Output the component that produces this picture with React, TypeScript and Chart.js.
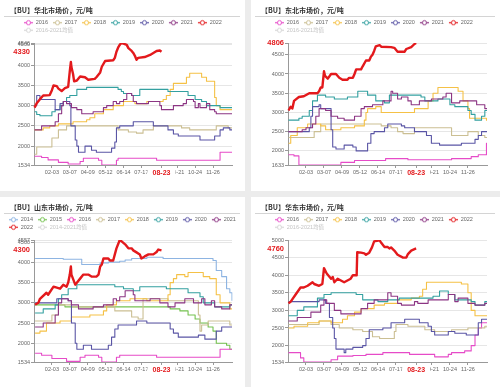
import React, { useEffect, useRef } from 'react';
import { Chart, registerables } from 'chart.js';

Chart.register(...registerables);
Chart.defaults.font.family = '"Liberation Sans", "Noto Sans CJK SC", sans-serif';

type Pt = [string, number];

// ---------- categories: one per calendar day (leap-year template) ----------
const MONTH_LENGTHS = [31, 29, 31, 30, 31, 30, 31, 31, 30, 31, 30, 31];
const DAYS: string[] = MONTH_LENGTHS.flatMap((n, m) =>
  Array.from({ length: n }, (_, d) => `${String(m + 1).padStart(2, '0')}-${String(d + 1).padStart(2, '0')}`)
);
const TICK_DAYS = ['02-03', '03-07', '04-09', '05-12', '06-14', '07-17', '09-21', '10-24', '11-26'];
const NOW_DAY = '08-23';

// ---------- 华北 ----------
const hbYTicks = [1534, 2000, 2500, 3000, 3500, 4000, 4500, 4546];
const hb2016: Pt[] = [['01-02', 1750], ['01-15', 1720], ['01-27', 1660], ['02-15', 1600], ['03-04', 1560], ['03-26', 1620], ['04-01', 1700], ['04-29', 1650], ['05-05', 1534], ['06-01', 1650], ['06-04', 1700], ['08-14', 1650], ['12-09', 1850], ['12-31', 1850]];
const hb2017: Pt[] = [['01-02', 1800], ['01-06', 1980], ['02-03', 2200], ['02-15', 2400], ['03-01', 2500], ['06-04', 2400], ['06-23', 2350], ['07-08', 2320], ['07-20', 2400], ['08-08', 2500], ['09-29', 2450], ['10-14', 2400], ['12-02', 2500], ['12-24', 2450], ['12-31', 2450]];
const hb2018: Pt[] = [['01-02', 2400], ['01-18', 2450], ['01-30', 2500], ['02-15', 2550], ['03-13', 2600], ['04-07', 2650], ['04-13', 2700], ['04-22', 2800], ['05-08', 2900], ['05-26', 3000], ['06-14', 3100], ['07-05', 3050], ['07-27', 3100], ['08-26', 3150], ['09-01', 3250], ['09-08', 3400], ['09-14', 3550], ['10-08', 3700], ['10-14', 3800], ['11-05', 3700], ['11-14', 3600], ['11-29', 3200], ['12-02', 3000], ['12-09', 2900], ['12-31', 2900]];
const hb2019: Pt[] = [['01-02', 2850], ['01-06', 2780], ['01-12', 2750], ['02-03', 2850], ['02-09', 2900], ['02-18', 3000], ['02-24', 3100], ['03-01', 3200], ['03-07', 3250], ['03-20', 3400], ['04-07', 3450], ['06-04', 3400], ['06-10', 3350], ['06-14', 3300], ['06-29', 3250], ['07-14', 3400], ['09-04', 3350], ['10-11', 3250], ['10-24', 3150], ['11-05', 3100], ['11-14', 3000], ['12-09', 2950], ['12-31', 2950]];
const hb2020: Pt[] = [['01-02', 3000], ['01-06', 3250], ['01-12', 3150], ['02-09', 2900], ['02-18', 3050], ['02-24', 3100], ['03-07', 3000], ['03-09', 2500], ['03-17', 2150], ['03-20', 2000], ['03-23', 1850], ['04-04', 2000], ['04-16', 1900], ['04-25', 1850], ['05-23', 1950], ['05-29', 2100], ['06-01', 2450], ['06-07', 2500], ['07-02', 2600], ['08-08', 2500], ['09-04', 2400], ['09-14', 2300], ['09-23', 2250], ['11-02', 2150], ['11-29', 2250], ['12-09', 2400], ['12-15', 2450], ['12-27', 2400], ['12-31', 2400]];
const hb2021: Pt[] = [['01-02', 2400], ['01-15', 2500], ['02-09', 2600], ['02-15', 2800], ['02-21', 3000], ['02-24', 3100], ['03-01', 3050], ['03-10', 2950], ['03-20', 2900], ['03-29', 2800], ['04-19', 2850], ['05-08', 2950], ['05-14', 3000], ['05-26', 3100], ['06-01', 3050], ['06-07', 3100], ['06-14', 3150], ['06-20', 3300], ['06-29', 3250], ['07-02', 3100], ['07-08', 3050], ['07-30', 3100], ['08-20', 3000], ['08-23', 2900], ['09-14', 3000], ['10-02', 3050], ['10-08', 3150], ['10-21', 3100], ['10-24', 2950], ['10-30', 3050], ['11-02', 2950], ['11-14', 3050], ['11-20', 2900], ['11-29', 2850], ['12-02', 2800], ['12-31', 2800]];
const hb2022: Pt[] = [['01-02', 2950], ['01-06', 3060], ['01-12', 3160], ['01-18', 3250], ['01-30', 3260], ['02-03', 3380], ['02-06', 3500], ['02-12', 3480], ['02-15', 3420], ['02-21', 3360], ['02-27', 3430], ['03-04', 3460], ['03-07', 3850], ['03-09', 4080], ['03-10', 3950], ['03-13', 3780], ['03-15', 3600], ['03-20', 3620], ['03-26', 3720], ['04-04', 3700], ['04-10', 3640], ['04-22', 3660], ['04-25', 3700], ['05-02', 3820], ['05-05', 3960], ['05-11', 4100], ['05-26', 4120], ['05-29', 4180], ['06-01', 4330], ['06-04', 4430], ['06-07', 4500], ['06-10', 4546], ['06-14', 4530], ['06-20', 4500], ['06-23', 4420], ['06-29', 4350], ['07-02', 4300], ['07-05', 4230], ['07-08', 4130], ['07-11', 4180], ['07-23', 4200], ['08-02', 4250], ['08-08', 4300], ['08-14', 4350], ['08-20', 4360], ['08-23', 4330]];

// ---------- 东北 ----------
const dbYTicks = [1633, 2000, 2500, 3000, 3500, 4000, 4500, 4806];
const db2016: Pt[] = [['01-02', 1900], ['01-12', 1870], ['01-21', 1633], ['04-07', 1700], ['05-02', 1750], ['06-28', 1800], ['08-08', 1770], ['10-27', 1800], ['12-02', 1850], ['12-15', 1900], ['12-30', 2200], ['12-31', 2200]];
const db2017: Pt[] = [['01-02', 2350], ['02-18', 2500], ['03-01', 2700], ['06-20', 2650], ['07-08', 2600], ['07-20', 2500], ['07-30', 2450], ['08-20', 2600], ['10-27', 2400], ['11-26', 2500], ['12-15', 2400], ['12-27', 2350], ['12-31', 2350]];
const db2018: Pt[] = [['01-02', 2200], ['01-06', 2400], ['01-18', 2600], ['02-06', 2700], ['03-01', 2650], ['03-10', 2550], ['04-07', 2600], ['05-02', 2650], ['05-20', 2800], ['05-23', 3000], ['05-26', 3100], ['06-10', 3150], ['06-20', 3000], ['08-20', 3100], ['09-14', 3300], ['09-23', 3500], ['10-02', 3650], ['11-08', 3550], ['11-17', 3300], ['11-26', 3100], ['11-29', 2850], ['12-30', 2800], ['12-31', 2800]];
const db2019: Pt[] = [['01-02', 2800], ['01-21', 2850], ['01-27', 2900], ['02-09', 3050], ['02-15', 3300], ['02-24', 3450], ['03-10', 3400], ['03-26', 3350], ['04-19', 3400], ['05-08', 3550], ['05-26', 3450], ['06-10', 3300], ['06-26', 3250], ['07-05', 3450], ['09-01', 3400], ['09-08', 3300], ['10-02', 3350], ['10-24', 3200], ['11-02', 3150], ['11-26', 3050], ['12-02', 2950], ['12-09', 2800], ['12-21', 2900], ['12-27', 3050], ['12-31', 3050]];
const db2020: Pt[] = [['01-02', 2500], ['02-09', 2600], ['02-12', 2900], ['02-15', 3150], ['02-27', 3200], ['03-01', 3100], ['03-20', 2550], ['03-23', 2100], ['03-29', 2050], ['04-13', 2150], ['04-29', 2100], ['05-05', 2000], ['05-26', 2200], ['06-01', 2450], ['06-07', 2500], ['06-26', 2600], ['07-02', 2700], ['07-27', 2650], ['08-02', 2600], ['08-20', 2500], ['09-11', 2400], ['09-20', 2200], ['10-05', 2150], ['11-14', 2200], ['12-09', 2300], ['12-15', 2400], ['12-21', 2500], ['12-31', 2500]];
const db2021: Pt[] = [['01-02', 2500], ['01-27', 2550], ['02-03', 2600], ['02-15', 2700], ['02-21', 2900], ['02-27', 3100], ['03-10', 3050], ['03-20', 2900], ['04-01', 2850], ['04-13', 2800], ['05-02', 2900], ['05-14', 3100], ['05-20', 3150], ['06-04', 3200], ['06-23', 3300], ['07-08', 3550], ['07-11', 3500], ['07-20', 3350], ['07-27', 3400], ['08-08', 3300], ['08-14', 3200], ['08-29', 3300], ['09-20', 3350], ['10-11', 3400], ['10-17', 3500], ['10-27', 3250], ['11-11', 3300], ['12-12', 3200], ['12-27', 3100], ['12-31', 3100]];
const db2022: Pt[] = [['01-02', 3050], ['01-06', 3150], ['01-09', 3100], ['01-12', 3300], ['01-21', 3400], ['01-30', 3420], ['02-09', 3500], ['02-24', 3500], ['02-27', 3550], ['03-01', 3650], ['03-04', 3650], ['03-07', 4070], ['03-09', 3950], ['03-14', 3880], ['03-20', 4000], ['03-29', 4000], ['04-04', 3900], ['04-10', 3850], ['04-19', 3850], ['04-22', 3900], ['04-29', 3900], ['05-02', 4000], ['05-05', 4120], ['05-14', 4120], ['05-17', 4200], ['05-23', 4350], ['05-29', 4350], ['06-01', 4450], ['06-04', 4500], ['06-07', 4600], ['06-10', 4720], ['06-17', 4750], ['06-20', 4710], ['07-08', 4700], ['07-14', 4680], ['07-20', 4580], ['08-02', 4580], ['08-05', 4650], ['08-14', 4700], ['08-20', 4780], ['08-23', 4806]];

// ---------- 山东 ----------
const sdYTicks = [1534, 2000, 2500, 3000, 3500, 4000, 4500, 4557];
const sd2014: Pt[] = [['01-03', 4100], ['02-24', 4080], ['03-29', 3950], ['05-02', 3990], ['05-17', 4010], ['06-07', 4030], ['06-17', 4060], ['06-29', 4100], ['07-27', 4130], ['08-26', 4100], ['11-26', 4050], ['12-02', 3800], ['12-12', 3650], ['12-21', 3350], ['12-27', 3250], ['12-31', 3050]];
const sd2015: Pt[] = [['01-03', 2950], ['02-27', 2900], ['09-08', 2850], ['09-26', 2800], ['10-11', 2700], ['10-24', 2600], ['11-02', 2500], ['11-17', 2400], ['11-26', 2300], ['12-02', 2000], ['12-21', 1950], ['12-27', 1850], ['12-31', 1850]];
const sd2016: Pt[] = [['01-03', 1750], ['01-15', 1700], ['02-03', 1620], ['03-01', 1550], ['03-26', 1650], ['04-04', 1700], ['04-29', 1650], ['05-05', 1534], ['06-01', 1650], ['06-07', 1700], ['08-14', 1650], ['12-09', 1850], ['12-31', 1850]];
const sd2017: Pt[] = [['01-03', 2550], ['02-03', 2700], ['02-15', 2950], ['03-10', 2900], ['05-29', 2800], ['06-29', 2650], ['07-11', 2600], ['07-20', 3100], ['09-04', 3050], ['10-30', 2700], ['11-02', 2300], ['11-05', 2450], ['11-17', 2550], ['12-27', 2450], ['12-31', 2450]];
const sd2018: Pt[] = [['01-03', 2250], ['01-12', 2300], ['01-24', 2500], ['02-18', 2550], ['03-10', 2650], ['04-13', 2700], ['05-08', 2800], ['05-14', 2950], ['06-01', 3050], ['06-26', 3100], ['07-27', 3050], ['09-04', 3200], ['09-08', 3500], ['09-14', 3600], ['09-20', 3700], ['10-05', 3650], ['10-11', 3750], ['11-08', 3650], ['11-20', 3600], ['12-02', 3200], ['12-09', 3000], ['12-27', 2850], ['12-31', 2850]];
const sd2019: Pt[] = [['01-03', 2750], ['01-18', 2850], ['02-09', 2950], ['02-15', 3100], ['02-21', 3200], ['03-04', 3350], ['03-20', 3450], ['05-29', 3400], ['06-14', 3350], ['07-02', 3300], ['07-14', 3400], ['09-01', 3350], ['10-11', 3250], ['11-02', 3150], ['11-08', 3000], ['11-29', 2900], ['12-27', 2950], ['12-31', 2950]];
const sd2020: Pt[] = [['01-03', 3000], ['02-12', 3100], ['03-04', 3050], ['03-10', 2500], ['03-17', 2000], ['03-20', 1850], ['04-01', 1950], ['04-16', 1850], ['05-17', 1950], ['05-23', 2150], ['05-29', 2350], ['06-04', 2450], ['07-08', 2550], ['07-27', 2500], ['09-08', 2350], ['09-14', 2250], ['09-23', 2150], ['10-30', 2200], ['11-11', 2100], ['12-02', 2300], ['12-12', 2400], ['12-31', 2400]];
const sd2021: Pt[] = [['01-03', 2400], ['01-18', 2500], ['02-09', 2700], ['02-15', 3000], ['02-21', 3100], ['03-04', 3050], ['03-10', 2950], ['03-23', 2850], ['04-19', 2900], ['05-08', 2950], ['05-26', 3100], ['06-01', 3050], ['06-07', 3150], ['06-17', 3300], ['07-02', 3200], ['07-05', 3050], ['08-02', 3100], ['08-20', 3000], ['09-04', 2900], ['09-17', 3000], ['10-05', 3100], ['10-21', 3000], ['11-05', 3100], ['11-11', 2950], ['11-23', 3050], ['11-29', 2900], ['12-12', 2850], ['12-27', 2950], ['12-31', 2950]];
const sd2022: Pt[] = [['01-03', 2950], ['01-09', 3000], ['01-12', 3100], ['01-24', 3250], ['01-27', 3200], ['02-06', 3400], ['02-18', 3350], ['02-24', 3450], ['03-01', 3400], ['03-04', 3500], ['03-07', 3700], ['03-09', 3900], ['03-10', 3700], ['03-17', 3450], ['03-20', 3500], ['03-26', 3600], ['04-01', 3700], ['04-10', 3700], ['04-16', 3650], ['04-25', 3650], ['04-29', 3700], ['05-02', 3900], ['05-05', 3950], ['05-08', 4100], ['05-17', 4100], ['05-20', 4050], ['05-26', 4050], ['05-29', 4200], ['06-01', 4350], ['06-04', 4450], ['06-07', 4557], ['06-10', 4530], ['06-17', 4450], ['06-23', 4350], ['06-29', 4350], ['07-02', 4300], ['07-08', 4250], ['07-14', 4200], ['07-17', 4100], ['07-23', 4150], ['07-30', 4200], ['08-08', 4200], ['08-14', 4260], ['08-17', 4320], ['08-23', 4300]];

// ---------- 华东 ----------
const hdYTicks = [1534, 2000, 2500, 3000, 3500, 4000, 4500, 5000];
const hd2016: Pt[] = [['01-02', 1800], ['01-24', 1650], ['01-30', 1534], ['03-20', 1600], ['04-01', 1700], ['04-29', 1720], ['05-23', 1750], ['06-23', 1800], ['08-11', 1750], ['09-26', 1680], ['10-21', 1750], ['10-27', 1800], ['11-20', 1850], ['12-02', 2000], ['12-09', 2300], ['12-15', 2500], ['12-21', 2650], ['12-31', 2650]];
const hd2017: Pt[] = [['01-02', 2600], ['02-27', 2700], ['03-20', 2600], ['04-04', 2500], ['04-29', 2450], ['05-17', 2400], ['06-04', 2250], ['06-17', 2200], ['07-14', 2400], ['07-17', 2600], ['08-08', 2550], ['09-08', 2450], ['09-26', 2400], ['10-27', 2450], ['11-26', 2500], ['12-27', 2550], ['12-31', 2550]];
const hd2018: Pt[] = [['01-02', 2500], ['01-12', 2550], ['02-06', 2650], ['02-27', 2700], ['03-20', 2650], ['04-10', 2750], ['04-19', 2850], ['05-02', 2950], ['05-14', 3050], ['06-07', 3150], ['06-26', 3200], ['07-20', 3300], ['08-14', 3350], ['08-29', 3400], ['09-04', 3600], ['09-11', 3800], ['11-14', 3750], ['11-26', 3500], ['12-02', 3000], ['12-09', 2850], ['12-31', 2850]];
const hd2019: Pt[] = [['01-02', 2850], ['01-18', 3000], ['01-30', 3100], ['02-24', 3350], ['03-07', 3450], ['03-20', 3500], ['05-05', 3450], ['05-17', 3300], ['06-14', 3250], ['07-02', 3300], ['07-23', 3350], ['09-23', 3400], ['10-05', 3550], ['10-21', 3450], ['11-02', 3300], ['12-02', 3250], ['12-09', 3150], ['12-27', 3250], ['12-31', 3250]];
const hd2020: Pt[] = [['01-02', 3250], ['02-27', 3300], ['03-10', 3200], ['03-17', 2800], ['03-23', 2500], ['03-26', 2200], ['03-29', 1900], ['04-13', 1800], ['04-16', 1900], ['04-29', 1950], ['05-17', 2000], ['05-23', 2200], ['05-29', 2450], ['06-23', 2500], ['07-08', 2650], ['08-02', 2750], ['08-29', 2650], ['09-14', 2550], ['09-20', 2400], ['09-26', 2300], ['10-21', 2400], ['11-02', 2350], ['11-23', 2300], ['12-15', 2650], ['12-21', 2750], ['12-31', 2750]];
const hd2021: Pt[] = [['01-02', 2700], ['01-18', 2800], ['02-12', 2950], ['03-01', 3150], ['03-07', 3300], ['03-12', 3200], ['03-26', 3000], ['04-07', 2900], ['05-14', 3050], ['05-26', 3200], ['06-07', 3300], ['07-02', 3500], ['07-08', 3400], ['07-20', 3200], ['07-27', 3150], ['08-20', 3250], ['08-26', 3200], ['09-14', 3300], ['10-21', 3450], ['11-02', 3250], ['11-08', 3350], ['11-26', 3200], ['12-09', 3150], ['12-27', 3200], ['12-31', 3200]];
const hd2022: Pt[] = [['01-02', 3200], ['01-06', 3250], ['01-15', 3450], ['01-24', 3650], ['01-30', 3650], ['02-06', 3700], ['02-15', 3800], ['02-18', 3750], ['02-27', 3700], ['03-04', 3750], ['03-07', 4200], ['03-12', 4050], ['03-20', 3900], ['03-23', 3950], ['03-26', 3800], ['04-01', 3900], ['04-07', 3850], ['04-13', 3800], ['04-19', 3850], ['04-25', 3900], ['04-29', 4000], ['05-05', 4000], ['05-06', 4050], ['05-07', 4650], ['05-14', 4640], ['05-20', 4620], ['05-23', 4580], ['05-29', 4640], ['06-03', 4790], ['06-07', 4960], ['06-17', 4990], ['06-20', 4920], ['06-26', 4800], ['07-02', 4800], ['07-05', 4760], ['07-08', 4790], ['07-14', 4700], ['07-20', 4580], ['07-30', 4500], ['08-05', 4500], ['08-08', 4600], ['08-14', 4700], ['08-20', 4740], ['08-23', 4760]];

// ---------- styles ----------
const RED = '#e3191c';
const YEAR_COLORS: Record<string, string> = {
  '2014': '#8db4e2', '2015': '#74c14f', '2016': '#e64bc8', '2017': '#cbbf93', '2018': '#f5c146',
  '2019': '#33a0a0', '2020': '#5a55a5', '2021': '#8c3583', '2022': RED,
};

type PanelCfg = {
  key: string; title: string; meanLabel: string; yTicks: number[];
  series: [string, Pt[]][];
  box: { x: number; y: number; w: number; h: number };
  legendLeft: number; plotLeft: number;
};

const PANELS: PanelCfg[] = [
  {
    key: 'hb', title: '【BU】华北市场价，元/吨', meanLabel: '2016-2021均值', yTicks: hbYTicks,
    series: [['2016', hb2016], ['2017', hb2017], ['2018', hb2018], ['2019', hb2019], ['2020', hb2020], ['2021', hb2021], ['2022', hb2022]],
    box: { x: 0, y: 0, w: 245, h: 191 }, legendLeft: 19, plotLeft: 34,
  },
  {
    key: 'db', title: '【BU】东北市场价，元/吨', meanLabel: '2016-2021均值', yTicks: dbYTicks,
    series: [['2016', db2016], ['2017', db2017], ['2018', db2018], ['2019', db2019], ['2020', db2020], ['2021', db2021], ['2022', db2022]],
    box: { x: 251, y: 0, w: 249, h: 191 }, legendLeft: 19, plotLeft: 37,
  },
  {
    key: 'sd', title: '【BU】山东市场价，元/吨', meanLabel: '2014-2021均值', yTicks: sdYTicks,
    series: [['2014', sd2014], ['2015', sd2015], ['2016', sd2016], ['2017', sd2017], ['2018', sd2018], ['2019', sd2019], ['2020', sd2020], ['2021', sd2021], ['2022', sd2022]],
    box: { x: 0, y: 197, w: 245, h: 190 }, legendLeft: 4, plotLeft: 34,
  },
  {
    key: 'hd', title: '【BU】华东市场价，元/吨', meanLabel: '2016-2021均值', yTicks: hdYTicks,
    series: [['2016', hd2016], ['2017', hd2017], ['2018', hd2018], ['2019', hd2019], ['2020', hd2020], ['2021', hd2021], ['2022', hd2022]],
    box: { x: 251, y: 197, w: 249, h: 190 }, legendLeft: 19, plotLeft: 37,
  },
];

// ---------- helpers ----------
const iconCache = new Map<string, HTMLCanvasElement>();
function legendIcon(color: string): HTMLCanvasElement {
  const hit = iconCache.get(color);
  if (hit) return hit;
  const c = document.createElement('canvas');
  c.width = 12;
  c.height = 7;
  const g = c.getContext('2d')!;
  g.strokeStyle = color;
  g.lineWidth = 1.2;
  g.beginPath();
  g.moveTo(3, 3.5);
  g.lineTo(12, 3.5);
  g.stroke();
  g.beginPath();
  g.arc(7.5, 3.5, 2.1, 0, Math.PI * 2);
  g.fillStyle = '#ffffff';
  g.fill();
  g.lineWidth = 1;
  g.stroke();
  iconCache.set(color, c);
  return c;
}

const headerPlugin = {
  id: 'panelHeader',
  afterLayout(chart: any, _args: any, opts: any) {
    // shift the legend so its rows start where the reference's rows do
    if (chart.legend && typeof opts.legendLeft === 'number') chart.legend.left = opts.legendLeft;
  },
  afterDraw(chart: any, _args: any, opts: any) {
    const { ctx } = chart;
    ctx.save();
    ctx.fillStyle = '#333333';
    ctx.font = 'bold 7px "Noto Sans CJK SC", sans-serif';
    ctx.textBaseline = 'middle';
    ctx.textAlign = 'left';
    ctx.fillText(opts.text, 10, 10);
    ctx.strokeStyle = '#d4d4d4';
    ctx.lineWidth = 1;
    ctx.beginPath();
    ctx.moveTo(4, 16.5);
    ctx.lineTo(chart.width - 5, 16.5);
    ctx.stroke();
    ctx.restore();
  },
};

function buildConfig(p: PanelCfg): any {
  const yMin = p.yTicks[0];
  const yMax = p.yTicks[p.yTicks.length - 1];
  const cur = p.series[p.series.length - 1][1];
  const last = cur[cur.length - 1][1];
  const allTicks = Array.from(new Set([...p.yTicks, last])).sort((a, b) => a - b);
  const isLast = (c: any) => !!c.tick && c.tick.value === last;
  const nowIdx = DAYS.indexOf(NOW_DAY);
  const isNow = (c: any) => !!c.tick && c.tick.value === nowIdx;

  const datasets: any[] = p.series.map(([year, pts], i) => ({
    label: year,
    data: pts.map(([x, y]) => ({ x, y })),
    borderColor: YEAR_COLORS[year],
    backgroundColor: YEAR_COLORS[year],
    borderWidth: year === '2022' ? 2.4 : 1.1,
    borderJoinStyle: 'round',
    pointRadius: 0,
    pointHoverRadius: 0,
    stepped: year === '2022' ? false : 'before',
    tension: 0,
    fill: false,
    order: -i,
  }));
  datasets.push({
    label: p.meanLabel, data: [], hidden: true, borderColor: '#cccccc', backgroundColor: '#cccccc',
    pointRadius: 0, borderWidth: 1, order: 1,
  });

  const baseGen = (Chart.defaults as any).plugins.legend.labels.generateLabels;

  return {
    type: 'line',
    data: { labels: DAYS, datasets },
    plugins: [headerPlugin],
    options: {
      responsive: false,
      animation: false,
      events: [],
      layout: { padding: { left: 0, right: 0, top: 18, bottom: p.box.h - 165 - 14 } },
      plugins: {
        panelHeader: { text: p.title, legendLeft: p.legendLeft },
        tooltip: { enabled: false },
        title: { display: false },
        legend: {
          display: true,
          position: 'top',
          align: 'start',
          labels: {
            usePointStyle: true,
            pointStyleWidth: 12,
            padding: 2,
            color: '#666666',
            font: { size: 5.5 },
            generateLabels: (chart: any) =>
              baseGen(chart)
                .sort((a: any, b: any) => a.datasetIndex - b.datasetIndex)
                .map((it: any) => {
                  const ds = chart.data.datasets[it.datasetIndex];
                  const muted = ds.hidden === true;
                  return {
                    ...it,
                    hidden: false,
                    pointStyle: legendIcon(muted ? '#d6d6d6' : ds.borderColor),
                    fontColor: muted ? '#c4c4c4' : '#666666',
                  };
                }),
          },
        },
      },
      scales: {
        x: {
          type: 'category',
          position: 'bottom',
          grid: { display: true, drawOnChartArea: false, drawTicks: true, tickLength: 3, color: '#999999', tickColor: '#999999' },
          border: { display: true, color: '#999999', width: 1 },
          ticks: {
            autoSkip: false, maxRotation: 0, minRotation: 0, padding: 1,
            color: (c: any) => (isNow(c) ? RED : '#666666'),
            font: (c: any) => (isNow(c) ? { size: 7, weight: 'bold' } : { size: 5.5 }),
            showLabelBackdrop: (c: any) => isNow(c),
            backdropColor: '#ffffff',
            backdropPadding: { left: 5, right: 5, top: 0, bottom: 0 },
          },
          // the current-date tick goes last so its label is painted over its neighbours
          afterBuildTicks: (s: any) => { s.ticks = [...TICK_DAYS, NOW_DAY].map((d) => ({ value: DAYS.indexOf(d) })); },
          afterFit: (s: any) => { s.height = 14; },
        },
        y: {
          type: 'linear',
          position: 'left',
          min: yMin,
          max: yMax,
          grid: {
            drawTicks: true,
            tickLength: 3,
            color: (c: any) => (isLast(c) && last !== yMax ? 'rgba(0,0,0,0)' : '#e6e6e6'),
            tickColor: (c: any) => (isLast(c) && last !== yMax ? 'rgba(0,0,0,0)' : '#999999'),
          },
          border: { display: true, color: '#999999', width: 1 },
          ticks: {
            autoSkip: false,
            padding: 1,
            color: (c: any) => (isLast(c) ? RED : '#666666'),
            font: (c: any) => (isLast(c) ? { size: 7.5, weight: 'bold' } : { size: 5.5 }),
            callback: (v: any) => String(v),
          },
          afterBuildTicks: (s: any) => { s.ticks = allTicks.map((v) => ({ value: v })); },
          afterFit: (s: any) => { s.width = p.plotLeft; },
        },
        yR: {
          type: 'linear',
          position: 'right',
          display: true,
          grid: { display: false, drawTicks: false },
          border: { display: false },
          ticks: { display: false },
          afterFit: (s: any) => { s.width = 13; },
        },
      },
    },
  };
}

function Panel({ cfg }: { cfg: PanelCfg }) {
  const ref = useRef<HTMLCanvasElement>(null);
  useEffect(() => {
    const chart = new Chart(ref.current as HTMLCanvasElement, buildConfig(cfg));
    return () => chart.destroy();
  }, [cfg]);
  return (
    <div
      style={{
        position: 'absolute', left: cfg.box.x, top: cfg.box.y, width: cfg.box.w, height: cfg.box.h,
        background: '#ffffff',
      }}
    >
      <canvas ref={ref} width={cfg.box.w} height={cfg.box.h} style={{ display: 'block' }} />
    </div>
  );
}

export default function App() {
  useEffect(() => {
    document.body.style.margin = '0';
  }, []);
  return (
    <div style={{ position: 'fixed', left: 0, top: 0, width: 500, height: 387, background: '#ececec', overflow: 'hidden' }}>
      {PANELS.map((p) => (
        <Panel key={p.key} cfg={p} />
      ))}
    </div>
  );
}
